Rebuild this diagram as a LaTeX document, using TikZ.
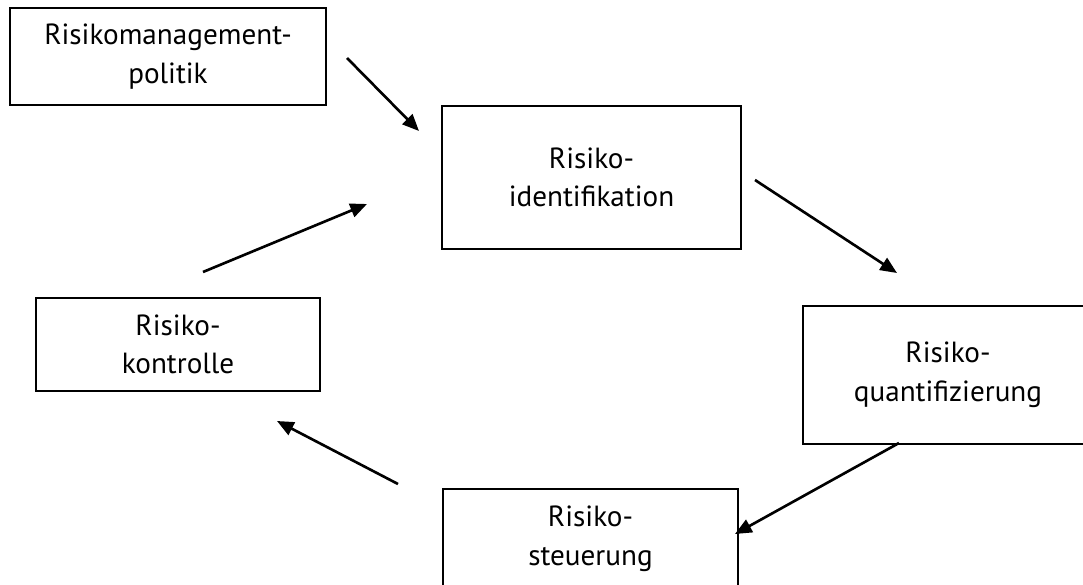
\documentclass[tikz,border=0pt]{standalone}
\usepackage{fontspec}
\setmainfont{PT Sans}
\usepackage{tikz}
\usetikzlibrary{positioning, arrows.meta}

\begin{document}
\begin{tikzpicture}[x=0.02cm, y=-0.02cm,
    box/.style={draw=black, line width=1.2pt, align=center, inner sep=0pt,
      font=\fontsize{16.6}{22}\selectfont},
    flow/.style={line width=1.5pt, -{Triangle[length=9.5pt, width=8pt]}}]
  \useasboundingbox (0,0) rectangle (1083,585);
  \clip (0,0) rectangle (1083,585);

  \node[box, minimum width=316*0.02cm, minimum height=97*0.02cm]
        (politik) at (168,56.5) {Risikomanagement-\\politik};
  \node[box, minimum width=299*0.02cm, minimum height=143*0.02cm]
        (ident) at (591.5,177.5) {Risiko-\\identifikation};
  \node[box, minimum width=290*0.02cm, minimum height=138*0.02cm]
        (quant) at (948,375) {Risiko-\\quantifizierung};
  \node[box, minimum width=295*0.02cm, minimum height=100*0.02cm]
        (steuer) at (590.5,539) {Risiko-\\steuerung};
  \node[box, minimum width=284*0.02cm, minimum height=93*0.02cm]
        (kontr) at (178,344.5) {Risiko-\\kontrolle};

  % free arrow ends
  \coordinate (a1s) at (347,58);  \coordinate (a1e) at (419,131);
  \coordinate (a2s) at (755,180); \coordinate (a2e) at (897,273);
  \coordinate (a3s) at (899,443); \coordinate (a3e) at (735,534);
  \coordinate (a4s) at (398,484); \coordinate (a4e) at (277,421);
  \coordinate (a5s) at (203,272); \coordinate (a5e) at (367,204);

  \draw[flow] (a1s) -- (a1e);
  \draw[flow] (a2s) -- (a2e);
  \draw[flow] (a3s) -- (a3e);
  \draw[flow] (a4s) -- (a4e);
  \draw[flow] (a5s) -- (a5e);

\end{tikzpicture}
\end{document}
